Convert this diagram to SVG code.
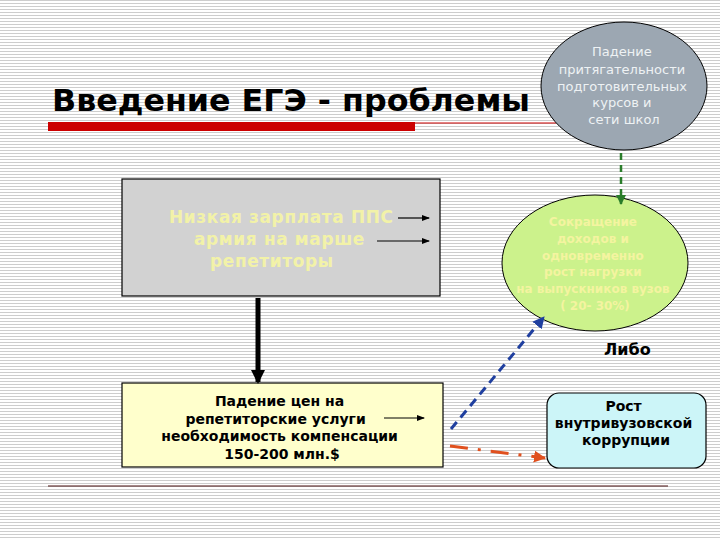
<svg xmlns="http://www.w3.org/2000/svg" width="720" height="540" viewBox="0 0 720 540">
<defs>
<pattern id="stripes" width="6" height="3" patternUnits="userSpaceOnUse">
<rect width="6" height="3" fill="#ffffff"/>
<rect y="0" width="6" height="1" fill="#cdcdcd"/>
</pattern>
<marker id="ablack" markerWidth="8" markerHeight="8" refX="7" refY="4" orient="auto" markerUnits="userSpaceOnUse">
<path d="M0,1 L8,4 L0,7 Z" fill="#000"/>
</marker>
<marker id="abig" markerWidth="14" markerHeight="14" refX="12" refY="7" orient="auto" markerUnits="userSpaceOnUse">
<path d="M0,0 L14,7 L0,14 Z" fill="#000"/>
</marker>
<marker id="agreen" markerWidth="10" markerHeight="10" refX="9" refY="5" orient="auto" markerUnits="userSpaceOnUse">
<path d="M0,0 L10,5 L0,10 Z" fill="#2a7d2a"/>
</marker>
<marker id="ablue" markerWidth="12" markerHeight="12" refX="11" refY="6" orient="auto" markerUnits="userSpaceOnUse">
<path d="M0,0 L12,6 L0,12 Z" fill="#1f3f9f"/>
</marker>
<marker id="ared" markerWidth="12" markerHeight="12" refX="11" refY="6" orient="auto" markerUnits="userSpaceOnUse">
<path d="M0,0 L12,6 L0,12 Z" fill="#e0501e"/>
</marker>
</defs>
<style>
.sans{font-family:"DejaVu Sans","Liberation Sans",sans-serif}
.title{font-size:31px;font-weight:bold;fill:#000}
.box{stroke:#000;stroke-width:1.2}
.pale{font-size:17px;font-weight:bold;fill:#f2f2a8;letter-spacing:0.6px}
.blk{font-size:14px;font-weight:bold;fill:#000}
.circ{font-size:13px;fill:#eef2f4}
.grn{font-size:12px;font-weight:bold;fill:#f4f4a0}
</style>
<rect width="720" height="540" fill="url(#stripes)"/>

<g id="title">
<text class="sans title" x="52" y="111" textLength="478" lengthAdjust="spacingAndGlyphs">Введение ЕГЭ - проблемы</text>
<rect x="48" y="122" width="367" height="9" fill="#cc0000"/>
<line x1="415" y1="123" x2="556" y2="123" stroke="#cc0000" stroke-width="1"/>
</g>

<g id="node-attract">
<ellipse cx="624" cy="86" rx="83" ry="64" fill="#9ca7b2" stroke="#000" stroke-width="1"/>
<text class="sans circ" text-anchor="middle">
<tspan x="624" y="56">Падение</tspan>
<tspan x="624" y="74">притягательности</tspan>
<tspan x="624" y="91">подготовительных</tspan>
<tspan x="624" y="107">курсов и</tspan>
<tspan x="624" y="124">сети школ</tspan>
</text>
</g>

<g id="node-income">
<ellipse cx="595" cy="263" rx="93" ry="68" fill="#ccf28c" stroke="#000" stroke-width="1"/>
<text class="sans grn" text-anchor="middle">
<tspan x="595" y="226">Сокращение</tspan>
<tspan x="595" y="243">доходов и</tspan>
<tspan x="595" y="260">одновременно</tspan>
<tspan x="595" y="276">рост нагрузки</tspan>
<tspan x="595" y="293">на выпускников вузов</tspan>
<tspan x="595" y="310">( 20- 30%)</tspan>
</text>
</g>

<g id="label-libo">
<text class="sans" x="604" y="355" font-size="16" font-weight="bold" fill="#000">Либо</text>
</g>

<g id="node-salary">
<rect class="box" x="122" y="179" width="318" height="117" fill="#d2d2d2"/>
<text class="sans pale" x="169" y="223">Низкая зарплата ППС</text>
<text class="sans pale" x="194" y="245">армия на марше</text>
<text class="sans pale" x="210" y="267">репетиторы</text>
</g>

<g id="node-prices">
<rect class="box" x="122" y="383" width="321" height="84" fill="#ffffcc"/>
<text class="sans blk" text-anchor="middle">
<tspan x="282" y="406">Падение цен на</tspan>
<tspan x="278" y="424">репетиторские услуги</tspan>
<tspan x="282" y="441">необходимость компенсации</tspan>
<tspan x="282" y="459">150-200 млн.$</tspan>
</text>
</g>

<g id="node-corruption">
<rect class="box" x="547" y="393" width="159" height="75" rx="12" fill="#ccf5f8"/>
<text class="sans blk" text-anchor="middle">
<tspan x="626" y="411">Рост</tspan>
<tspan x="626" y="428">внутривузовской</tspan>
<tspan x="626" y="445">коррупции</tspan>
</text>
</g>

<g id="connectors">
<line x1="398" y1="218" x2="429" y2="218" stroke="#000" stroke-width="1.2" marker-end="url(#ablack)"/>
<line x1="377" y1="241" x2="429" y2="241" stroke="#000" stroke-width="1" marker-end="url(#ablack)"/>
<line x1="384" y1="418" x2="424" y2="418" stroke="#000" stroke-width="1" marker-end="url(#ablack)"/>
<line x1="258" y1="298" x2="258" y2="382" stroke="#000" stroke-width="5" marker-end="url(#abig)"/>
<line x1="621" y1="153" x2="621" y2="204" stroke="#2a7d2a" stroke-width="2.5" stroke-dasharray="7,5" marker-end="url(#agreen)"/>
<line x1="451" y1="429" x2="544" y2="317" stroke="#1f3f9f" stroke-width="3" stroke-dasharray="9,6" marker-end="url(#ablue)"/>
<line x1="450" y1="446" x2="545" y2="458" stroke="#e0501e" stroke-width="3" stroke-dasharray="18,10,3,10" marker-end="url(#ared)"/>
</g>

<line x1="48" y1="486" x2="668" y2="486" stroke="#4a1010" stroke-width="1.2"/>
</svg>
